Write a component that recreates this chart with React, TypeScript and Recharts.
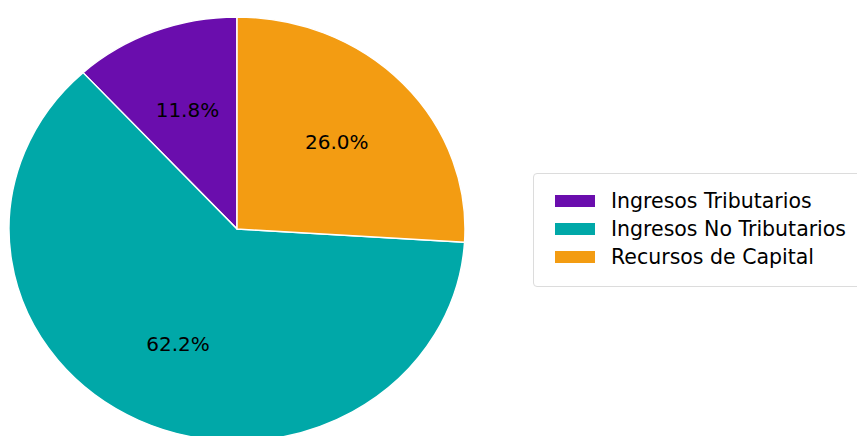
import { PieChart, Pie, Cell } from 'recharts'

const categories = ['Ingresos Tributarios', 'Ingresos No Tributarios', 'Recursos de Capital']
const shares = [11.8, 62.2, 26.0]
const colors = ['#6a0dad', '#00a8a8', '#f39c12']

const data = categories.map((name, i) => ({ name, value: shares[i] }))

// the reference pie is slightly squashed vertically (ellipse)
const SQUASH = 0.93
const CX = 237
const CY = 229

const renderLabel = (props: any) => {
  const { cx, cy, midAngle, outerRadius, percent } = props
  const RAD = Math.PI / 180
  const r = outerRadius * 0.6
  const x = cx + r * Math.cos(-midAngle * RAD)
  const y = cy + r * Math.sin(-midAngle * RAD) * SQUASH
  return (
    <text
      x={x}
      y={y}
      textAnchor="middle"
      dominantBaseline="central"
      fill="#000"
      fontSize={20}
      fontFamily="DejaVu Sans"
    >
      {`${(percent * 100).toFixed(1)}%`}
    </text>
  )
}

const ChartLegend = () => (
  <div
    style={{
      position: 'absolute',
      left: 533,
      top: 173,
      width: 340,
      height: 114,
      border: '1px solid #dcdcdc',
      borderRadius: 4,
      boxSizing: 'border-box',
      paddingTop: 13,
      fontFamily: 'DejaVu Sans',
      fontSize: 20.5,
      color: '#000',
      background: '#fff',
    }}
  >
    {categories.map((name, i) => (
      <div
        key={name}
        style={{ display: 'flex', alignItems: 'center', height: 28 }}
      >
        <span
          style={{
            display: 'inline-block',
            width: 40,
            height: 12,
            marginLeft: 21,
            marginRight: 16,
            background: colors[i],
          }}
        />
        <span style={{ lineHeight: '28px' }}>{name}</span>
      </div>
    ))}
  </div>
)

export default function App() {
  return (
    <div
      style={{
        position: 'absolute',
        left: 0,
        top: 0,
        width: 857,
        height: 436,
        overflow: 'hidden',
        background: '#fff',
      }}
    >
      <style>{`
        .recharts-pie .recharts-sector {
          transform-box: view-box;
          transform-origin: ${CX}px ${CY}px;
          transform: scaleY(${SQUASH});
        }
      `}</style>
      <PieChart width={857} height={436} margin={{ top: 0, right: 0, bottom: 0, left: 0 }}>
        <Pie
          data={data}
          dataKey="value"
          nameKey="name"
          cx={CX}
          cy={CY}
          outerRadius={228}
          startAngle={90}
          endAngle={450}
          stroke="#fff"
          strokeWidth={1.5}
          label={renderLabel}
          labelLine={false}
          isAnimationActive={false}
        >
          {data.map((d, i) => (
            <Cell key={d.name} fill={colors[i]} />
          ))}
        </Pie>
      </PieChart>
      <ChartLegend />
    </div>
  )
}
